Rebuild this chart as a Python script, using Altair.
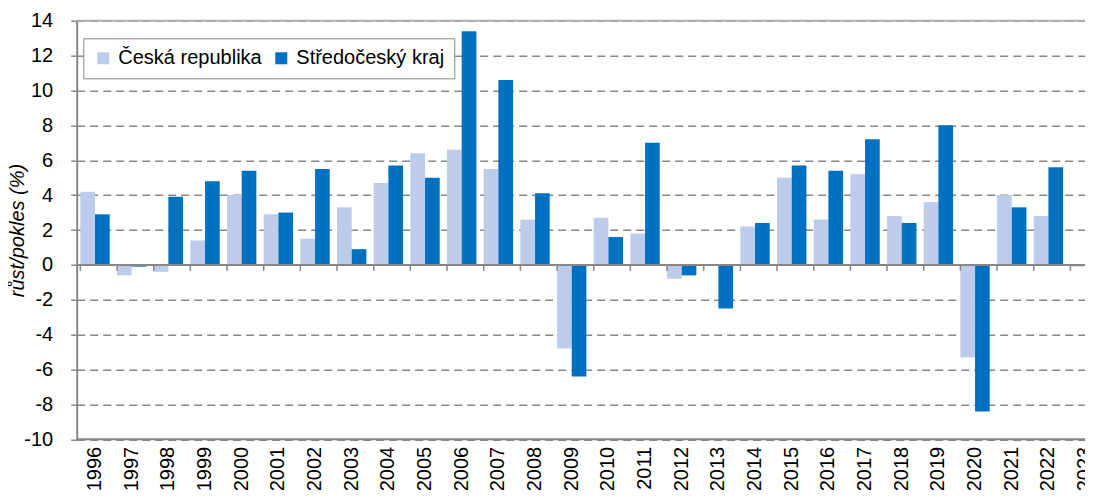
import altair as alt
import pandas as pd

years = [str(y) for y in range(1996, 2024)]
ceska_republika = [4.2, -0.6, -0.4, 1.4, 4.0, 2.9, 1.5, 3.3, 4.7, 6.4, 6.6, 5.5, 2.6, -4.8,
                   2.7, 1.8, -0.8, 0.0, 2.2, 5.0, 2.6, 5.2, 2.8, 3.6, -5.3, 4.0, 2.8, -0.1]
stredocesky_kraj = [2.9, -0.1, 3.9, 4.8, 5.4, 3.0, 5.5, 0.9, 5.7, 5.0, 13.4, 10.6, 4.1, -6.4,
                    1.6, 7.0, -0.6, -2.5, 2.4, 5.7, 5.4, 7.2, 2.4, 8.0, -8.4, 3.3, 5.6, 1.4]
series_names = ["Česká republika", "Středočeský kraj"]
series_colors = ["#BCCCEA", "#0070C0"]
y_ticks = list(range(-10, 15, 2))

rows = []
for i, y in enumerate(years):
    rows.append({"rok": y, "serie": series_names[0], "hodnota": ceska_republika[i]})
    rows.append({"rok": y, "serie": series_names[1], "hodnota": stredocesky_kraj[i]})
df = pd.DataFrame(rows)
years_df = pd.DataFrame({"rok": years})

FONT = "Liberation Sans"
GRAY = "#878787"
PLOT_W = 1008.3     # visible plot width (page is 1093 wide)
FULL_W = 1026.7     # width of all 28 bands (last one runs off the page, as in the reference)

x_scale = alt.Scale(paddingInner=0.2, paddingOuter=0.1, range=[0, FULL_W])
x_axis = alt.Axis(title=None, labelAngle=270, labelFontSize=20, labelFont=FONT,
                  labelColor="#000000", ticks=False, domain=False,
                  labelPadding=7, labelOverlap=False)
y_scale = alt.Scale(domain=[-10, 14], nice=False, zero=False)
y_axis = alt.Axis(values=y_ticks, labelExpr="datum.value",
                  title="růst/pokles (%)", titleFontStyle="italic",
                  titleFontWeight="normal", titleFontSize=20, titleFont=FONT,
                  titleColor="#000000", titleX=-58.7, titleBaseline="middle",
                  labelFontSize=20, labelFont=FONT, labelColor="#000000",
                  labelPadding=18, labelOverlap=False, tickSize=6,
                  tickColor=GRAY, tickWidth=1.5,
                  domainColor=GRAY, domainWidth=2,
                  grid=True, gridColor=GRAY, gridDash=[8, 5], gridWidth=1.5)

bars = alt.Chart(df).mark_bar().encode(
    x=alt.X("rok:N", sort=years, scale=x_scale, axis=x_axis),
    xOffset=alt.XOffset("serie:N", sort=series_names),
    y=alt.Y("hodnota:Q", scale=y_scale, axis=y_axis),
    color=alt.Color("serie:N", sort=series_names,
                    scale=alt.Scale(domain=series_names, range=series_colors),
                    legend=alt.Legend(orient="none", legendX=6.6, legendY=17.6,
                                      direction="horizontal", columns=2, title=None,
                                      symbolType="square", symbolSize=144,
                                      symbolStrokeWidth=0, labelFontSize=20,
                                      labelFont=FONT, labelColor="#000000",
                                      labelOffset=5, columnPadding=9, padding=10,
                                      strokeColor=GRAY, fillColor="#ffffff")),
)


def hrule(value, color):
    return alt.Chart(pd.DataFrame({"v": [value]})).mark_rule(color=color, strokeWidth=2).encode(
        y=alt.Y("v:Q", scale=y_scale, axis=y_axis))


zero_rule = hrule(0, GRAY)
bottom_rule = hrule(-10, GRAY)
top_rule = hrule(14, "#b0b0b0")

ticks = alt.Chart(years_df).transform_calculate(z0="0", z1="-0.344").mark_rule(
    color=GRAY, strokeWidth=1.5).encode(
    x=alt.X("rok:N", sort=years, scale=x_scale, axis=x_axis, bandPosition=0),
    y=alt.Y("z0:Q", scale=y_scale, axis=y_axis),
    y2="z1:Q",
)

chart = alt.layer(top_rule, bars, zero_rule, bottom_rule, ticks).properties(
    width=PLOT_W, height=418.6,
    autosize=alt.AutoSizeParams(type="none"),
    padding={"left": 68.7, "top": 12.7, "right": 0, "bottom": 50.7},
).configure_view(stroke=None)

chart.save("out.html", embed_options={"renderer": "svg", "actions": False})
